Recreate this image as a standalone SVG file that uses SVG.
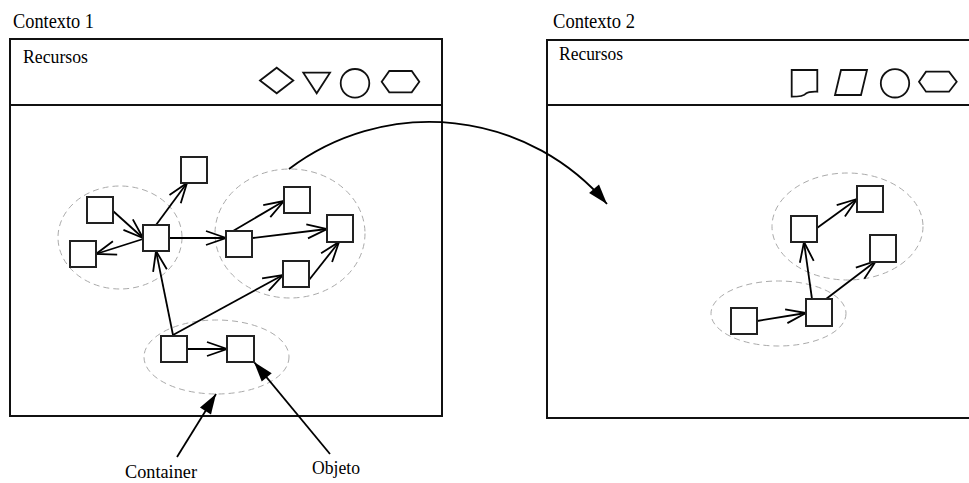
<svg xmlns="http://www.w3.org/2000/svg" width="969" height="483" viewBox="0 0 969 483">
<style>
.frame{fill:none;stroke:#111;stroke-width:2}
.lbl{font-family:"Liberation Serif","Times New Roman",serif;fill:#000}
.icon{fill:none;stroke:#111;stroke-width:1.8;stroke-linejoin:miter}
.box{fill:#fff;stroke:#222;stroke-width:2}
.grp{fill:none;stroke:#aaa;stroke-width:1;stroke-dasharray:6 4}
.edge{fill:none;stroke:#000;stroke-width:1.8}
</style>
<defs>
<marker id="open" markerUnits="userSpaceOnUse" viewBox="-2 -10 24 20" markerWidth="24" markerHeight="20" refX="20" refY="0" orient="auto">
<path d="M0,-7 L20,0 L0,7" fill="none" stroke="#000" stroke-width="1.8"/>
</marker>
<marker id="solid" markerUnits="userSpaceOnUse" viewBox="-2 -10 24 20" markerWidth="24" markerHeight="20" refX="20" refY="0" orient="auto">
<path d="M0,-6.5 L20,0 L0,6.5 Z" fill="#000"/>
</marker>
</defs>

<g id="context1">
<text class="lbl" x="13" y="28" font-size="20" textLength="81" lengthAdjust="spacingAndGlyphs">Contexto 1</text>
<rect class="frame" x="10" y="39" width="432" height="377"/>
<line class="frame" x1="10" y1="105" x2="442" y2="105"/>
<text class="lbl" x="23" y="63" font-size="18" textLength="65" lengthAdjust="spacingAndGlyphs">Recursos</text>
<polygon class="icon" points="260,80.5 276.7,67.7 293.3,80.5 276.7,93.3"/>
<polygon class="icon" points="303.3,72.7 330,72.7 316.7,93.3"/>
<circle class="icon" cx="355" cy="83.3" r="14.3"/>
<polygon class="icon" points="381.7,81.7 389.3,71 411.7,71 419.3,81.7 411.7,92.3 389.3,92.3"/>
</g>

<g id="context2">
<text class="lbl" x="553" y="28" font-size="20" textLength="82" lengthAdjust="spacingAndGlyphs">Contexto 2</text>
<rect class="frame" x="547" y="40" width="440" height="378"/>
<line class="frame" x1="547" y1="105" x2="975" y2="105"/>
<text class="lbl" x="559" y="60" font-size="18" textLength="64" lengthAdjust="spacingAndGlyphs">Recursos</text>
<path class="icon" d="M791.7,70 H817.3 V91.7 C812,91.5 808,91.8 806,93.5 C804,96 800,96.7 791.7,96.7 Z"/>
<polygon class="icon" points="841,70 867,70 861,95 835,95"/>
<circle class="icon" cx="895" cy="83.3" r="14.2"/>
<polygon class="icon" points="919,81.7 926,71.7 949,71.7 956.7,81.7 949,91.7 926,91.7"/>
</g>

<g id="containers">
<ellipse id="c1" class="grp" cx="120" cy="237.5" rx="62" ry="51.5"/>
<ellipse id="c2" class="grp" cx="290" cy="233.5" rx="75" ry="64.5"/>
<ellipse id="c3" class="grp" cx="216.5" cy="357" rx="72.5" ry="37"/>
<ellipse id="c4" class="grp" cx="847.5" cy="226.5" rx="75.5" ry="53.5"/>
<ellipse id="c5" class="grp" cx="778.5" cy="313.5" rx="67.5" ry="32.5"/>
</g>

<g id="connectors">
<line class="edge" x1="113" y1="211" x2="143" y2="238" marker-end="url(#open)"/>
<line class="edge" x1="143" y1="239" x2="96" y2="254" marker-end="url(#open)"/>
<line class="edge" x1="156" y1="225" x2="187" y2="183" marker-end="url(#open)"/>
<line class="edge" x1="169" y1="238" x2="226" y2="238" marker-end="url(#open)"/>
<line class="edge" x1="233" y1="231" x2="284" y2="201" marker-end="url(#open)"/>
<line class="edge" x1="253" y1="238" x2="327" y2="229" marker-end="url(#open)"/>
<line class="edge" x1="309" y1="280" x2="339" y2="242" marker-end="url(#open)"/>
<line class="edge" x1="173" y1="335" x2="283" y2="275" marker-end="url(#open)"/>
<line class="edge" x1="173" y1="335" x2="156" y2="251" marker-end="url(#open)"/>
<line class="edge" x1="187" y1="349" x2="227" y2="349" marker-end="url(#open)"/>
<line class="edge" x1="817" y1="228" x2="857" y2="199" marker-end="url(#open)"/>
<line class="edge" x1="812" y1="299" x2="804" y2="242" marker-end="url(#open)"/>
<line class="edge" x1="826" y1="299" x2="876" y2="261" marker-end="url(#open)"/>
<line class="edge" x1="757" y1="321" x2="806" y2="313" marker-end="url(#open)"/>
<line class="edge" x1="177" y1="457" x2="216" y2="394" marker-end="url(#solid)"/>
<line class="edge" x1="330" y1="454" x2="254" y2="362" marker-end="url(#solid)"/>
<path class="edge" d="M289,169 A233,233 0 0 1 607,204" marker-end="url(#solid)"/>
</g>

<g id="nA"><rect class="box" x="181" y="157" width="26" height="26"/></g>
<g id="nB"><rect class="box" x="87" y="197" width="26" height="26"/></g>
<g id="nC"><rect class="box" x="70" y="241" width="26" height="26"/></g>
<g id="nD"><rect class="box" x="143" y="225" width="26" height="26"/></g>
<g id="nE"><rect class="box" x="226" y="231" width="26" height="26"/></g>
<g id="nF"><rect class="box" x="284" y="187" width="26" height="26"/></g>
<g id="nG"><rect class="box" x="327" y="215" width="26" height="27"/></g>
<g id="nH"><rect class="box" x="283" y="261" width="26" height="26"/></g>
<g id="nI"><rect class="box" x="161" y="336" width="26" height="26"/></g>
<g id="nJ"><rect class="box" x="227" y="336" width="27" height="26"/></g>
<g id="nK"><rect class="box" x="791" y="216" width="26" height="26"/></g>
<g id="nL"><rect class="box" x="857" y="186" width="26" height="26"/></g>
<g id="nM"><rect class="box" x="870" y="235" width="26" height="27"/></g>
<g id="nN"><rect class="box" x="731" y="308" width="26" height="26"/></g>
<g id="nO"><rect class="box" x="806" y="299" width="26" height="27"/></g>

<g id="labels">
<text class="lbl" x="125" y="478" font-size="19" textLength="72" lengthAdjust="spacingAndGlyphs">Container</text>
<text class="lbl" x="312" y="474" font-size="19" textLength="48" lengthAdjust="spacingAndGlyphs">Objeto</text>
</g>
</svg>
